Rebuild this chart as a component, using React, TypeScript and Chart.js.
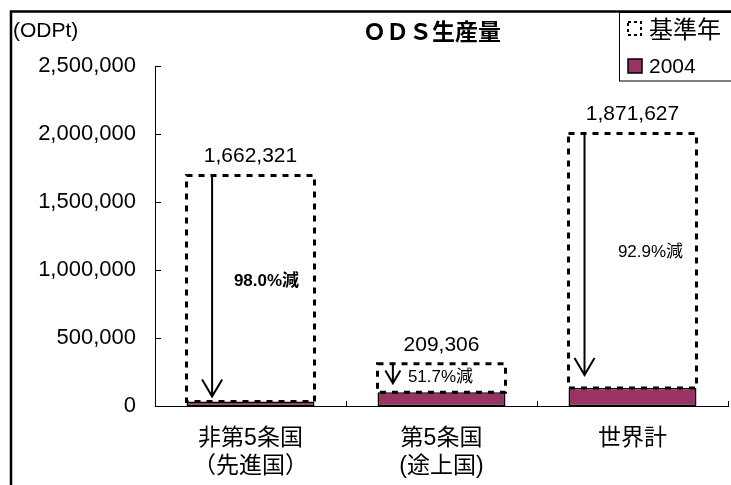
import { useEffect, useRef } from "react";
import { Chart, registerables } from "chart.js";

Chart.register(...registerables);

// Categories (multi-line axis labels)
const categories: string[][] = [
  ["非第5条国", "（先進国）"],
  ["第5条国", "(途上国)"],
  ["世界計"],
];

// ODS production in ODP tonnes
const baseYearValues = [1662321, 209306, 1871627];
const values2004 = [33200, 101100, 132900];

const yTickValues = [0, 500000, 1000000, 1500000, 2000000, 2500000];
const seriesNames = ["基準年", "2004"];
const titleText = "ＯＤＳ生産量";
const unitText = "(ODPt)";

// Styling
const FONT = '"Liberation Sans", "Noto Sans CJK JP", sans-serif';
const PLUM = "#993366";
const W = 731;
const H = 485;

// Per-category arrow / annotation styling
const arrowXFrac = [0.2, 0.12, 0.125];
const arrowGap = [5, 9, 13];
const arrowHead = [10, 7.5, 10];
const pctOffsetX = [16, -1, 18];
const pctBold = [true, false, false];

const fmt = (v: number) => v.toLocaleString("en-US");

const overlayPlugin = {
  id: "odsOverlay",
  afterDatasetsDraw(chart: any) {
    const ctx: CanvasRenderingContext2D = chart.ctx;
    const metaBase = chart.getDatasetMeta(1);
    const meta04 = chart.getDatasetMeta(0);
    for (let i = 0; i < baseYearValues.length; i++) {
      const b = metaBase.data[i].getProps(["x", "y", "base", "width"], true);
      const p = meta04.data[i].getProps(["x", "y", "base", "width"], true);
      const left = b.x - b.width / 2;

      // dashed outline of the base-year segment
      ctx.save();
      ctx.strokeStyle = "#000";
      ctx.lineWidth = 3;
      ctx.setLineDash([6, 6]);
      ctx.strokeRect(left, b.y, b.width, b.base - b.y);
      ctx.restore();

      // reduction arrow
      const ax = left + arrowXFrac[i] * b.width;
      const tip = p.y - arrowGap[i];
      const hw = arrowHead[i];
      const hh = hw * 1.7;
      ctx.save();
      ctx.strokeStyle = "#000";
      ctx.lineWidth = 2;
      ctx.beginPath();
      ctx.moveTo(ax, b.y);
      ctx.lineTo(ax, tip);
      ctx.moveTo(ax - hw, tip - hh);
      ctx.lineTo(ax, tip);
      ctx.lineTo(ax + hw, tip - hh);
      ctx.stroke();
      ctx.restore();

      // base-year value above the box
      ctx.save();
      ctx.fillStyle = "#000";
      ctx.textAlign = "center";
      ctx.textBaseline = "middle";
      ctx.font = `21px ${FONT}`;
      ctx.fillText(fmt(baseYearValues[i]), b.x, b.y - 19);

      // reduction percentage inside the box
      const pct = ((1 - values2004[i] / baseYearValues[i]) * 100).toFixed(1) + "%減";
      ctx.font = `${pctBold[i] ? "bold " : ""}17px ${FONT}`;
      ctx.fillText(pct, b.x + pctOffsetX[i], b.y + (p.y - b.y) * 0.467);
      ctx.restore();
    }
  },
  afterDraw(chart: any) {
    const ctx: CanvasRenderingContext2D = chart.ctx;
    const area = chart.chartArea;
    const xs = chart.scales.x;
    const ys = chart.scales.y;

    ctx.save();
    ctx.strokeStyle = "#000";
    ctx.lineWidth = 1;
    // inward tick marks on the value axis
    ctx.beginPath();
    for (const v of yTickValues) {
      const y = Math.round(ys.getPixelForValue(v)) + 0.5;
      ctx.moveTo(area.left, y);
      ctx.lineTo(area.left + 6, y);
    }
    // inward tick marks between categories
    for (let i = 0; i < categories.length; i++) {
      const xr =
        i < categories.length - 1
          ? (xs.getPixelForValue(i) + xs.getPixelForValue(i + 1)) / 2
          : area.right;
      const x = Math.round(xr) + 0.5;
      ctx.moveTo(x, area.bottom);
      ctx.lineTo(x, area.bottom - 5);
    }
    ctx.stroke();

    // outer frame
    ctx.lineWidth = 2.5;
    ctx.beginPath();
    ctx.moveTo(11, H + 2);
    ctx.lineTo(11, 11.5);
    ctx.lineTo(W + 2, 11.5);
    ctx.stroke();

    // unit and title
    ctx.fillStyle = "#000";
    ctx.textBaseline = "middle";
    ctx.textAlign = "left";
    ctx.font = `21px ${FONT}`;
    ctx.fillText(unitText, 13, 31);
    ctx.textAlign = "center";
    ctx.font = `bold 23px "Noto Sans CJK JP", ${FONT}`;
    ctx.fillText(titleText, 432, 31);

    // legend
    ctx.lineWidth = 1;
    ctx.fillStyle = "#fff";
    ctx.fillRect(619.5, 12.5, W, 68.5);
    ctx.strokeRect(619.5, 12.5, W, 68.5);
    ctx.lineWidth = 2;
    ctx.setLineDash([3, 3]);
    ctx.strokeRect(628, 22, 13, 13);
    ctx.setLineDash([]);
    ctx.fillStyle = PLUM;
    ctx.fillRect(628, 59, 14, 14);
    ctx.lineWidth = 1.5;
    ctx.strokeRect(628, 59, 14, 14);
    ctx.fillStyle = "#000";
    ctx.textAlign = "left";
    ctx.font = `24px "Noto Sans CJK JP", ${FONT}`;
    ctx.fillText(seriesNames[0], 649, 29);
    ctx.font = `21px ${FONT}`;
    ctx.fillText(seriesNames[1], 649, 67);
    ctx.restore();
  },
};

export default function App() {
  const ref = useRef<HTMLCanvasElement | null>(null);

  useEffect(() => {
    document.body.style.margin = "0";
    const canvas = ref.current;
    if (!canvas) return;
    const chart = new Chart(canvas, {
      type: "bar",
      data: {
        labels: categories,
        datasets: [
          {
            label: seriesNames[1],
            data: values2004,
            backgroundColor: PLUM,
            borderColor: "#000",
            borderWidth: 1.5,
            borderSkipped: false,
            stack: "s",
          },
          {
            label: seriesNames[0],
            data: baseYearValues,
            backgroundColor: "rgba(0,0,0,0)",
            borderWidth: 0,
            stack: "s",
          },
        ],
      },
      options: {
        responsive: false,
        animation: false,
        devicePixelRatio: 1,
        layout: { padding: { left: 0, top: 66, right: 3, bottom: 0 } },
        datasets: {
          bar: { categoryPercentage: 1, barPercentage: 0.67 },
        },
        plugins: {
          legend: { display: false },
          title: { display: false },
          tooltip: { enabled: false },
        },
        scales: {
          x: {
            stacked: true,
            grid: { display: false, drawTicks: false },
            border: { display: true, color: "#000", width: 1 },
            ticks: {
              color: "#000",
              padding: 19,
              font: { family: FONT, size: 23 },
              maxRotation: 0,
              autoSkip: false,
            },
            afterFit: (s: any) => {
              s.height = 79;
            },
          },
          y: {
            stacked: true,
            min: 0,
            max: 2500000,
            grid: { display: false, drawTicks: false },
            border: { display: true, color: "#000", width: 1 },
            afterBuildTicks: (s: any) => {
              s.ticks = yTickValues.map((v) => ({ value: v }));
            },
            ticks: {
              color: "#000",
              padding: 19,
              font: { family: FONT, size: 22 },
              callback: (v: any) => fmt(Number(v)),
            },
            afterFit: (s: any) => {
              s.width = 155;
            },
          },
        },
      },
      plugins: [overlayPlugin],
    });
    return () => chart.destroy();
  }, []);

  return (
    <div style={{ width: W, height: H, background: "#fff" }}>
      <canvas ref={ref} width={W} height={H} style={{ display: "block" }} />
    </div>
  );
}
